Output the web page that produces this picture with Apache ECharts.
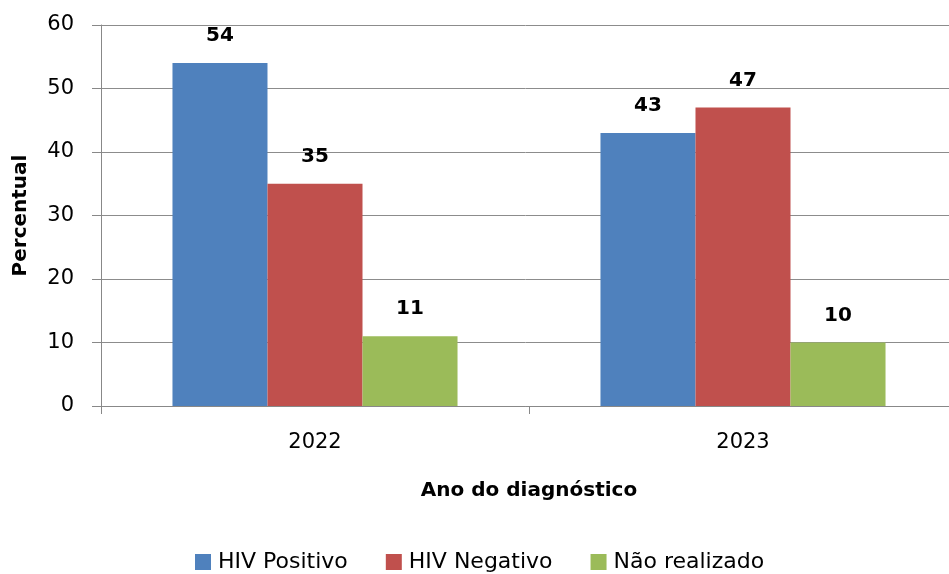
<!DOCTYPE html>
<html>
<head>
<meta charset="utf-8">
<script src="https://cdn.jsdelivr.net/npm/echarts@6/dist/echarts.min.js"></script>
<style>
  html, body { margin: 0; padding: 0; background: #fff; }
  #chart { width: 949px; height: 574px; }
</style>
</head>
<body>
<div id="chart"></div>
<script>
// Resultado do teste de HIV por ano do diagnóstico (%)
const years = ['2022', '2023'];
const hivPositivo = [54, 43];
const hivNegativo = [35, 47];
const naoRealizado = [11, 10];
const seriesNames = ['HIV Positivo', 'HIV Negativo', 'Não realizado'];
const yTicks = { min: 0, max: 60, interval: 10 };

const FONT = 'DejaVu Sans';
const colors = ['#4F81BD', '#C0504D', '#9BBB59'];

const chart = echarts.init(document.getElementById('chart'), null, { renderer: 'canvas' });

function barSeries(name, values, color) {
  return {
    name: name,
    type: 'bar',
    data: values,
    barWidth: '22.2%',
    barGap: '0%',
    itemStyle: { color: color },
    label: {
      show: true,
      position: 'top',
      distance: 17,
      fontFamily: FONT,
      fontWeight: 'bold',
      fontSize: 20,
      color: '#000'
    }
  };
}

chart.setOption({
  animation: false,
  color: colors,
  textStyle: { fontFamily: FONT },
  grid: { left: 101, top: 25, width: 856, height: 381, containLabel: false, outerBoundsMode: 'none' },
  legend: {
    data: seriesNames,
    top: 546,
    left: 190,
    icon: 'rect',
    itemWidth: 16,
    itemHeight: 16,
    itemGap: 38,
    textStyle: { fontFamily: FONT, fontSize: 22, color: '#000', padding: [0, 0, 0, 2] }
  },
  xAxis: {
    type: 'category',
    data: years,
    name: 'Ano do diagnóstico',
    nameLocation: 'middle',
    nameGap: 75,
    nameTextStyle: { fontFamily: FONT, fontWeight: 'bold', fontSize: 20, color: '#000' },
    axisLine: { lineStyle: { color: '#888', width: 1 } },
    axisTick: { show: true, length: 8, lineStyle: { color: '#888' } },
    axisLabel: { fontFamily: FONT, fontSize: 21, color: '#000', margin: 26 }
  },
  yAxis: {
    type: 'value',
    min: yTicks.min,
    max: yTicks.max,
    interval: yTicks.interval,
    name: 'Percentual',
    nameLocation: 'middle',
    nameGap: 70,
    nameRotate: 90,
    nameTextStyle: { fontFamily: FONT, fontWeight: 'bold', fontSize: 20, color: '#000' },
    axisLine: { show: true, lineStyle: { color: '#888', width: 1 } },
    axisTick: { show: true, length: 9, lineStyle: { color: '#888' } },
    axisLabel: { fontFamily: FONT, fontSize: 21, color: '#000', margin: 27 },
    splitLine: { show: true, lineStyle: { color: '#8c8c8c', width: 1 } }
  },
  series: [
    barSeries(seriesNames[0], hivPositivo, colors[0]),
    barSeries(seriesNames[1], hivNegativo, colors[1]),
    barSeries(seriesNames[2], naoRealizado, colors[2])
  ]
});
</script>
</body>
</html>
